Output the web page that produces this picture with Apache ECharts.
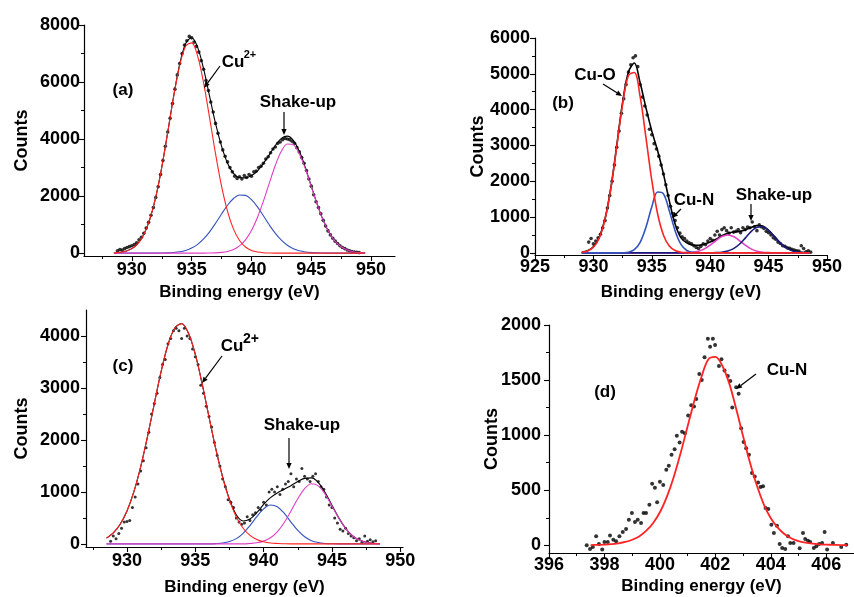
<!DOCTYPE html>
<html>
<head>
<meta charset="utf-8">
<script src="https://cdn.jsdelivr.net/npm/echarts@6/dist/echarts.min.js"></script>
<style>
  html, body { margin: 0; padding: 0; background: #fff; }
  #chart { width: 854px; height: 597px; }
</style>
</head>
<body>
<div id="chart"></div>
<script>
// ---- panel (a): Cu 2p, Cu2+ + shake-up ----
const aFitX = [928.5,929,929.5,930,930.5,931,931.5,932,932.5,933,933.5,934,934.5,935,935.5,936,936.5,937,937.5,938,938.5,939,939.5,940,940.5,941,941.5,942,942.5,943,943.5,944,944.5,945,945.5,946,946.5,947,947.5,948,948.5,949,949.5];
const aRed = [10,28,69,159,337,658,1184,1964,3003,4233,5496,6576,7253,7373,6907,5963,4744,3479,2351,1464,841,445,217,97,40,15,5,0,0,0,0,0,0,0,0,0,0,0,0,0,0,0,0];
const aBlue = [0,0,0,0,0,0,0,1,4,10,23,48,96,178,308,497,747,1049,1374,1679,1915,2039,2025,1876,1622,1309,985,692,454,277,158,84,42,19,8,3,0,0,0,0,0,0,0];
const aMagenta = [0,0,0,0,0,0,0,0,0,0,0,0,0,0,0,0,4,10,26,59,127,253,465,793,1250,1824,2465,3083,3570,3826,3797,3488,2966,2335,1702,1148,717,415,222,110,50,21,8];
const aEnvelope = [10,28,69,159,337,658,1184,1965,3007,4243,5519,6624,7349,7551,7215,6460,5495,4538,3751,3150,2800,2650,2640,2720,2880,3148,3455,3775,4024,4103,3955,3572,3008,2354,1710,1151,717,415,222,110,50,21,8];
const aDotX = [928.8,929,929.2,929.4,929.6,929.8,930,930.2,930.4,930.6,930.8,931,931.2,931.4,931.6,931.8,932,932.2,932.4,932.6,932.8,933,933.2,933.4,933.6,933.8,934,934.2,934.4,934.6,934.8,935,935.2,935.4,935.6,935.8,936,936.2,936.4,936.6,936.8,937,937.2,937.4,937.6,937.8,938,938.2,938.4,938.6,938.8,939,939.2,939.4,939.6,939.8,940,940.2,940.4,940.6,940.8,941,941.2,941.4,941.6,941.8,942,942.2,942.4,942.6,942.8,943,943.2,943.4,943.6,943.8,944,944.2,944.4,944.6,944.8,945,945.2,945.4,945.6,945.8,946,946.2,946.4,946.6,946.8,947,947.2,947.4,947.6,947.8,948,948.2,948.4,948.6,948.8,949];
const aDotY = [80,130,110,160,200,230,260,300,360,470,560,700,880,1080,1330,1600,1950,2330,2760,3250,3750,4250,4730,5250,5750,6250,6650,7000,7300,7450,7600,7550,7400,7250,7050,6750,6450,6050,5700,5300,4950,4550,4200,3900,3620,3400,3200,3000,2850,2700,2620,2680,2600,2720,2650,2760,2700,2850,2880,3000,3050,3150,3300,3380,3520,3650,3720,3850,3900,3980,4020,4000,3980,3920,3850,3700,3550,3350,3150,2900,2600,2350,2050,1800,1600,1380,1150,950,780,640,520,420,340,260,200,160,110,80,60,40,30,20];

// ---- panel (b): Cu-O, Cu-N + shake-up ----
const bFitX = [929,929.5,930,930.5,931,931.5,932,932.5,933,933.5,934,934.5,935,935.5,936,936.5,937,937.5,938,938.5,939,939.5,940,940.5,941,941.5,942,942.5,943,943.5,944,944.5,945,945.5,946,946.5,947,947.5,948,948.5];
const bCuO = [14,50,156,415,938,1808,2970,4155,4955,5035,4360,3217,2023,1084,494,192,64,18,5,0,0,0,0,0,0,0,0,0,0,0,0,0,0,0,0,0,0,0,0,0];
const bCuN = [0,0,0,0,0,0,0,3,19,88,292,715,1286,1698,1646,1172,613,235,66,14,2,0,0,0,0,0,0,0,0,0,0,0,0,0,0,0,0,0,0,0];
const bShake1 = [0,0,0,0,0,0,0,0,0,0,0,0,0,0,0,0,0,0,5,17,47,110,214,342,455,500,455,342,214,110,47,17,5,0,0,0,0,0,0,0];
const bShake2 = [0,0,0,0,0,0,0,0,0,0,0,0,0,0,0,0,0,0,0,0,0,0,0,5,17,49,118,240,411,593,717,730,624,449,271,138,59,21,6,2];
const bEnvelope = [15,60,170,430,960,1830,3000,4200,5050,5300,4750,4050,3400,2850,2200,1450,800,420,280,220,210,240,300,380,480,550,580,600,640,710,765,750,630,460,280,150,70,30,10,5];
const bDotX = [929.6,929.8,930,930.2,930.4,930.6,930.8,931,931.2,931.4,931.6,931.8,932,932.2,932.4,932.6,932.8,933,933.2,933.4,933.6,933.8,934,934.2,934.4,934.6,934.8,935,935.2,935.4,935.6,935.8,936,936.2,936.4,936.6,936.8,937,937.2,937.4,937.6,937.8,938,938.2,938.4,938.6,938.8,939,939.2,939.4,939.6,939.8,940,940.2,940.4,940.6,940.8,941,941.2,941.4,941.6,941.8,942,942.2,942.4,942.6,942.8,943,943.2,943.4,943.6,943.8,944,944.2,944.4,944.6,944.8,945,945.2,945.4,945.6,945.8,946,946.2,946.4,946.6,946.8,947,947.2,947.4,947.6,947.8,948,948.2,948.4,948.6];
const bDotY = [300,400,250,330,420,520,700,900,1250,1600,2000,2450,2950,3400,3900,4300,4700,5050,5250,5450,5500,5200,4700,4350,4100,3850,3450,3300,3050,2900,2700,2450,2200,1900,1600,1300,1100,900,700,550,450,400,330,280,250,200,150,120,180,250,230,330,400,350,500,600,500,650,700,620,550,700,580,600,650,560,700,650,720,700,860,730,620,780,720,680,600,560,500,420,380,300,260,200,180,140,130,100,80,60,50,200,120,30,60,20];

// ---- panel (c): Cu2+ + shake-up ----
const cFitX = [928.5,929,929.5,930,930.5,931,931.5,932,932.5,933,933.5,934,934.5,935,935.5,936,936.5,937,937.5,938,938.5,939,939.5,940,940.5,941,941.5,942,942.5,943,943.5,944,944.5,945,945.5,946,946.5,947,947.5,948,948.5];
const cRed = [111,211,377,633,999,1482,2064,2700,3319,3832,4155,4235,4053,3645,3079,2443,1821,1275,839,519,301,164,84,41,18,8,3,0,0,0,0,0,0,0,0,0,0,0,0,0,0];
const cBlue = [0,0,0,0,0,0,0,0,0,0,0,0,0,0,0,0,5,16,44,101,204,352,524,674,748,715,590,420,258,137,62,25,8,3,0,0,0,0,0,0,0];
const cMagenta = [0,0,0,0,0,0,0,0,0,0,0,0,0,0,0,0,0,0,0,0,0,8,21,53,118,233,407,631,870,1065,1157,1117,957,728,492,295,157,74,31,12,4];
const cEnvelope = [111,211,377,633,999,1482,2064,2700,3319,3832,4155,4235,4053,3645,3079,2443,1826,1291,860,560,440,480,600,760,890,980,1050,1120,1200,1260,1270,1180,990,745,500,300,160,75,32,12,4];
const cDotX = [928.8,929,929.2,929.4,929.6,929.8,930,930.2,930.4,930.6,930.8,931,931.2,931.4,931.6,931.8,932,932.2,932.4,932.6,932.8,933,933.2,933.4,933.6,933.8,934,934.2,934.4,934.6,934.8,935,935.2,935.4,935.6,935.8,936,936.2,936.4,936.6,936.8,937,937.2,937.4,937.6,937.8,938,938.2,938.4,938.6,938.8,939,939.2,939.4,939.6,939.8,940,940.2,940.4,940.6,940.8,941,941.2,941.4,941.6,941.8,942,942.2,942.4,942.6,942.8,943,943.2,943.4,943.6,943.8,944,944.2,944.4,944.6,944.8,945,945.2,945.4,945.6,945.8,946,946.2,946.4,946.6,946.8,947,947.2,947.4,947.6,947.8,948,948.2];
const cDotY = [50,150,100,200,300,420,430,450,700,900,1150,1400,1600,1850,2150,2500,2700,2900,3200,3450,3550,3850,3950,4100,4150,4100,3950,4150,4000,3950,3750,3600,3450,3050,2900,2650,2450,2250,1950,1700,1500,1250,1100,850,800,700,500,420,380,400,520,450,560,600,700,650,800,750,1000,1050,1000,1100,950,1050,1150,1200,1350,1100,1250,1200,1450,1300,1250,1200,1300,1350,1200,1100,1050,900,750,700,500,400,280,250,300,200,150,120,60,100,30,150,50,80,40,60];

// ---- panel (d): N 1s, Cu-N ----
const dFitX = [397.5,397.75,398,398.25,398.5,398.75,399,399.25,399.5,399.75,400,400.25,400.5,400.75,401,401.25,401.5,401.75,402,402.25,402.5,402.75,403,403.25,403.5,403.75,404,404.25,404.5,404.75,405,405.25,405.5,405.75,406,406.25,406.5,406.75];
const dCuN = [2,4,6,10,18,30,50,80,130,200,300,440,620,840,1080,1320,1530,1690,1710,1630,1470,1240,990,750,540,370,245,160,100,62,38,24,15,9,6,4,2,1];
const dDotX = [397.36,397.48,397.58,397.7,397.8,397.92,398.0,398.12,398.2,398.32,398.42,398.54,398.66,398.78,398.88,398.99,399.1,399.2,399.32,399.41,399.5,399.62,399.72,399.82,399.9,400.0,400.12,400.23,400.32,400.42,400.53,400.61,400.71,400.8,400.9,401.02,401.13,401.23,401.31,401.42,401.51,401.61,401.73,401.81,401.91,401.99,402.13,402.22,402.33,402.45,402.54,402.61,402.75,402.84,402.93,403.02,403.11,403.21,403.32,403.42,403.54,403.63,403.72,403.81,403.91,404.02,404.11,404.22,404.32,404.41,404.52,404.62,404.7,404.82,405.04,405.16,405.24,405.34,405.42,405.55,405.64,405.74,405.85,405.94,406.03,406.24,406.54,406.72];
const dDotY = [0,-33,-15,82,12,-39,30,30,88,51,36,82,121,148,233,293,211,233,202,293,293,369,559,523,390,577,547,686,722,822,873,994,933,1030,1018,1178,1272,1260,1329,1556,1501,1707,1876,1803,1876,1819,1628,1689,1586,1538,1492,1251,1435,1375,1063,937,882,822,656,625,571,529,535,338,329,187,112,178,12,-24,-33,82,21,21,-27,112,57,42,30,-24,-9,12,21,121,-39,21,-15,6];

// tick label values
const aXTicks = [930, 935, 940, 945, 950];
const aYTicks = [0, 2000, 4000, 6000, 8000];
const bXTicks = [925, 930, 935, 940, 945, 950];
const bYTicks = [0, 1000, 2000, 3000, 4000, 5000, 6000];
const cXTicks = [930, 935, 940, 945, 950];
const cYTicks = [0, 1000, 2000, 3000, 4000];
const dXTicks = [396, 398, 400, 402, 404, 406];
const dYTicks = [0, 500, 1000, 1500, 2000];

const FONT = "Liberation Sans";
const RED = "#ff2323", BLUE = "#3352bf", MAGENTA = "#e03fc4", NAVY = "#1b1b7c";

const pairs = (xs, ys) => xs.map((x, i) => [x, ys[i]]);

function textStyle(size) {
  return { fontFamily: FONT, fontWeight: "bold", fontSize: size, color: "#000" };
}

// plain numbers, no thousands separators
const plain = v => String(v);

function xAxisFor(gi, min, max, ticks, nameGap, margin) {
  return {
    type: "value", gridIndex: gi, min: min, max: max, splitNumber: 5,
    name: "Binding energy (eV)", nameLocation: "middle", nameGap: nameGap,
    nameMoveOverlap: false,
    nameTextStyle: textStyle(17),
    axisLine: { onZero: false, lineStyle: { color: "#000", width: 1.2 } },
    axisTick: { show: true, length: 5, customValues: ticks, lineStyle: { color: "#000", width: 1.1 } },
    minorTick: { show: true, splitNumber: 2, length: 3, lineStyle: { color: "#000", width: 1 } },
    axisLabel: Object.assign({ customValues: ticks, margin: margin, hideOverlap: false, formatter: plain }, textStyle(18)),
    splitLine: { show: false }
  };
}

function yAxisFor(gi, min, max, ticks, nameGap, margin) {
  return {
    type: "value", gridIndex: gi, min: min, max: max, splitNumber: 5,
    name: "Counts", nameLocation: "middle", nameGap: nameGap, nameRotate: 90,
    nameMoveOverlap: false,
    nameTextStyle: textStyle(18),
    axisLine: { onZero: false, lineStyle: { color: "#000", width: 1.2 } },
    axisTick: { show: true, length: 5, customValues: ticks, lineStyle: { color: "#000", width: 1.1 } },
    minorTick: { show: true, splitNumber: 2, length: 3, lineStyle: { color: "#000", width: 1 } },
    axisLabel: Object.assign({ customValues: ticks, margin: margin, hideOverlap: false, formatter: plain }, textStyle(18)),
    splitLine: { show: false }
  };
}

function dots(i, xs, ys, size) {
  return {
    type: "scatter", xAxisIndex: i, yAxisIndex: i, data: pairs(xs, ys),
    symbol: "circle", symbolSize: size, itemStyle: { color: "#000" }, silent: true
  };
}

function fit(i, xs, ys, color, width) {
  return {
    type: "line", xAxisIndex: i, yAxisIndex: i, data: pairs(xs, ys),
    showSymbol: false, symbol: "none", smooth: 0.35,
    lineStyle: { color: color, width: width }, silent: true
  };
}

function label(text, x, y, size) {
  return {
    type: "text", x: x, y: y, z: 100,
    style: { text: text, fill: "#000", font: "bold " + (size || 17) + "px '" + FONT + "'", align: "center", verticalAlign: "middle" }
  };
}

function arrow(x1, y1, x2, y2) {
  const a = Math.atan2(y2 - y1, x2 - x1), h = 6, w = 2.6;
  const bx = x2 - h * Math.cos(a), by = y2 - h * Math.sin(a);
  return [
    { type: "line", z: 100, shape: { x1: x1, y1: y1, x2: bx, y2: by }, style: { stroke: "#000", lineWidth: 1.2 } },
    { type: "polygon", z: 100,
      shape: { points: [[x2, y2], [bx - w * Math.sin(a), by + w * Math.cos(a)], [bx + w * Math.sin(a), by - w * Math.cos(a)]] },
      style: { fill: "#000" } }
  ];
}

const chart = echarts.init(document.getElementById("chart"), null, { renderer: "canvas" });

chart.setOption({
  animation: false,
  backgroundColor: "#fff",
  grid: [
    { left: 84, top: 25, width: 311, height: 231, outerBoundsMode: "none" },
    { left: 535, top: 38, width: 292, height: 217, outerBoundsMode: "none" },
    { left: 86, top: 310, width: 317, height: 237, outerBoundsMode: "none" },
    { left: 549, top: 325, width: 305, height: 228, outerBoundsMode: "none" }
  ],
  xAxis: [
    xAxisFor(0, 926, 952, aXTicks, 28, 5),
    xAxisFor(1, 925, 950, bXTicks, 29, 3),
    xAxisFor(2, 927, 950.2, cXTicks, 32, 5),
    xAxisFor(3, 396, 407, dXTicks, 25, 3)
  ],
  yAxis: [
    yAxisFor(0, -100, 8000, aYTicks, 53, 4),
    yAxisFor(1, -60, 6000, bYTicks, 48, 5),
    yAxisFor(2, -60, 4500, cYTicks, 55, 6),
    yAxisFor(3, -70, 2000, dYTicks, 48, 8)
  ],
  series: [
    dots(0, aDotX, aDotY, 3.6),
    fit(0, aFitX, aEnvelope, "#000", 1.1),
    fit(0, aFitX, aBlue, BLUE, 1.1),
    fit(0, aFitX, aMagenta, MAGENTA, 1.1),
    fit(0, aFitX, aRed, RED, 1.1),

    dots(1, bDotX, bDotY, 3.6),
    fit(1, bFitX, bEnvelope, "#000", 1.6),
    fit(1, bFitX, bShake1, MAGENTA, 1.6),
    fit(1, bFitX, bShake2, NAVY, 1.6),
    fit(1, bFitX, bCuN, BLUE, 1.6),
    fit(1, bFitX, bCuO, RED, 1.6),

    dots(2, cDotX, cDotY, 3),
    fit(2, cFitX, cEnvelope, "#000", 1.1),
    fit(2, cFitX, cBlue, BLUE, 1.1),
    fit(2, cFitX, cMagenta, MAGENTA, 1.1),
    fit(2, cFitX, cRed, RED, 1.1),

    dots(3, dDotX, dDotY, 4),
    fit(3, dFitX, dCuN, RED, 1.8)
  ],
  graphic: [].concat(
    // (a)
    [label("(a)", 123, 90), label("Cu", 233, 62), label("2+", 250, 55, 11), label("Shake-up", 298, 102)],
    arrow(220, 66, 204, 88),
    arrow(284, 112, 284, 135),
    // (b)
    [label("(b)", 563, 103), label("Cu-O", 595, 75), label("Cu-N", 694, 200), label("Shake-up", 774, 195)],
    arrow(603, 84, 622, 96),
    arrow(681, 209, 672, 218),
    arrow(751, 204, 751, 221),
    // (c)
    [label("(c)", 123, 366), label("Cu", 232, 346), label("2+", 251, 339, 14), label("Shake-up", 302, 425)],
    arrow(222, 356, 202, 383),
    arrow(289, 438, 289, 469),
    // (d)
    [label("(d)", 605, 392), label("Cu-N", 787, 370)],
    arrow(756, 374, 736, 389)
  )
});
</script>
</body>
</html>
